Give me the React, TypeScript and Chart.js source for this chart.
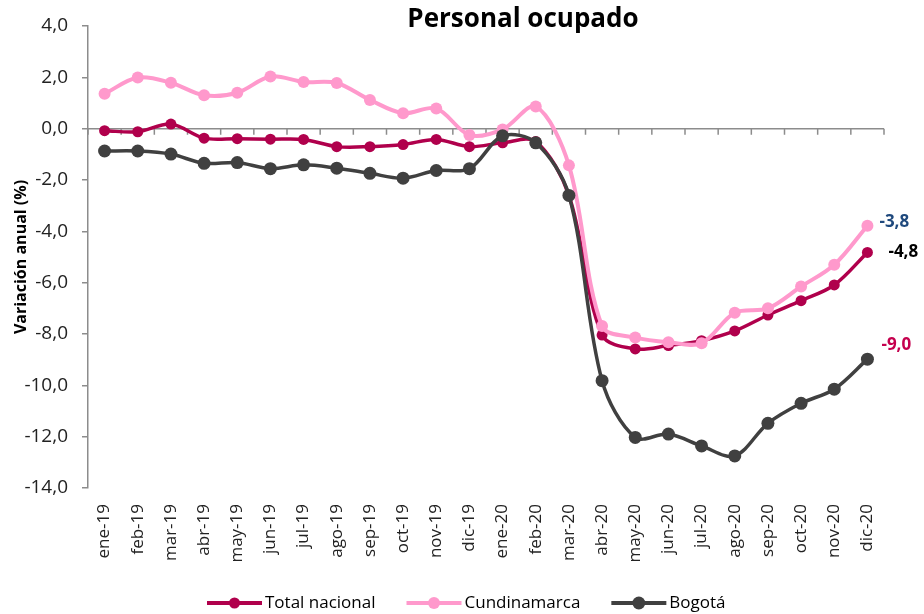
import React, { useEffect, useRef } from "react";
import { Chart, registerables } from "chart.js";

Chart.register(...registerables);

const categories = [
  "ene-19", "feb-19", "mar-19", "abr-19", "may-19", "jun-19", "jul-19", "ago-19", "sep-19", "oct-19", "nov-19", "dic-19",
  "ene-20", "feb-20", "mar-20", "abr-20", "may-20", "jun-20", "jul-20", "ago-20", "sep-20", "oct-20", "nov-20", "dic-20",
];

const totalNacional = [
  -0.08, -0.12, 0.18, -0.37, -0.39, -0.41, -0.42, -0.7, -0.7, -0.62, -0.42, -0.7,
  -0.55, -0.5, -2.6, -8.04, -8.58, -8.45, -8.26, -7.88, -7.26, -6.7, -6.09, -4.82,
];

const cundinamarca = [
  1.36, 1.99, 1.79, 1.3, 1.4, 2.03, 1.82, 1.78, 1.12, 0.6, 0.79, -0.25,
  -0.03, 0.86, -1.43, -7.69, -8.14, -8.32, -8.36, -7.17, -7.0, -6.15, -5.3, -3.78,
];

const bogota = [
  -0.87, -0.87, -0.99, -1.35, -1.32, -1.56, -1.41, -1.54, -1.74, -1.93, -1.63, -1.56,
  -0.28, -0.55, -2.6, -9.82, -12.03, -11.9, -12.36, -12.75, -11.48, -10.7, -10.15, -8.98,
];

const seriesNames = ["Total nacional", "Cundinamarca", "Bogotá"];
const seriesColors = ["#B0004C", "#FF99CC", "#404040"];
const endLabelColors = ["#000000", "#1F497D", "#C5004E"];

const yTicks = { min: -14, max: 4, step: 2 };

const titleText = "Personal ocupado";
const yTitle = "Variación anual (%)";
const FONT = "'Open Sans', 'Noto Sans', sans-serif";

const fmt = (v: number) => v.toFixed(1).replace(".", ",");

const zeroAxisPlugin = {
  id: "zeroAxis",
  beforeDatasetsDraw(chart: any) {
    const { ctx, chartArea, scales } = chart;
    const y0 = scales.y.getPixelForValue(0);
    const xs = scales.x;
    const n = categories.length;
    const step = (xs.getPixelForValue(n - 1) - xs.getPixelForValue(0)) / (n - 1);
    ctx.save();
    ctx.strokeStyle = "#8C8C8C";
    ctx.lineWidth = 1.5;
    ctx.beginPath();
    ctx.moveTo(chartArea.left, y0);
    ctx.lineTo(chartArea.right, y0);
    for (let i = 0; i <= n; i++) {
      const x = xs.getPixelForValue(0) - step / 2 + i * step;
      ctx.moveTo(x, y0);
      ctx.lineTo(x, y0 + 6);
    }
    ctx.stroke();
    ctx.restore();
  },
};

const endLabelPlugin = {
  id: "endLabels",
  afterDatasetsDraw(chart: any, _args: any, opts: any) {
    const { ctx } = chart;
    ctx.save();
    ctx.font = `bold 17px ${FONT}`;
    ctx.textAlign = "left";
    ctx.textBaseline = "middle";
    chart.data.datasets.forEach((ds: any, i: number) => {
      const meta = chart.getDatasetMeta(i);
      const last = meta.data[meta.data.length - 1];
      const off = opts.offsets[i];
      ctx.fillStyle = endLabelColors[i];
      ctx.fillText(fmt(ds.data[ds.data.length - 1]), last.x + off[0], last.y + off[1]);
    });
    ctx.restore();
  },
};

const titlePlugin = {
  id: "customTitle",
  afterDraw(chart: any, _args: any, opts: any) {
    const { ctx } = chart;
    ctx.save();
    ctx.font = `bold 26px ${FONT}`;
    ctx.fillStyle = "#000";
    ctx.textAlign = "center";
    ctx.textBaseline = "middle";
    ctx.fillText(titleText, opts.x, opts.y);
    ctx.restore();
  },
};

const legendPlugin = {
  id: "customLegend",
  afterDraw(chart: any, _args: any, opts: any) {
    const { ctx } = chart;
    ctx.save();
    ctx.font = `17px ${FONT}`;
    ctx.textBaseline = "middle";
    ctx.textAlign = "left";
    let x = opts.x;
    const y = opts.y;
    seriesNames.forEach((name, i) => {
      const ds = chart.data.datasets[i];
      ctx.strokeStyle = seriesColors[i];
      ctx.lineWidth = 4;
      ctx.beginPath();
      ctx.moveTo(x, y);
      ctx.lineTo(x + 55, y);
      ctx.stroke();
      ctx.fillStyle = seriesColors[i];
      ctx.beginPath();
      ctx.arc(x + 27.5, y, ds.pointRadius, 0, Math.PI * 2);
      ctx.fill();
      ctx.fillStyle = "#000";
      ctx.fillText(name, x + 58, y);
      x += 58 + ctx.measureText(name).width + 31;
    });
    ctx.restore();
  },
};

export default function App() {
  const ref = useRef<HTMLCanvasElement>(null);
  useEffect(() => {
    const chart = new Chart(ref.current!, {
      type: "line",
      data: {
        labels: categories,
        datasets: [
          {
            label: seriesNames[0],
            data: totalNacional,
            borderColor: seriesColors[0],
            backgroundColor: seriesColors[0],
            borderWidth: 3.5,
            pointRadius: 5.5,
            pointBorderWidth: 0,
            tension: 0.33,
            order: 2,
          },
          {
            label: seriesNames[1],
            data: cundinamarca,
            borderColor: seriesColors[1],
            backgroundColor: seriesColors[1],
            borderWidth: 4,
            pointRadius: 6,
            pointBorderWidth: 0,
            tension: 0.33,
            order: 1,
          },
          {
            label: seriesNames[2],
            data: bogota,
            borderColor: seriesColors[2],
            backgroundColor: seriesColors[2],
            borderWidth: 3.5,
            pointRadius: 6.5,
            pointBorderWidth: 0,
            tension: 0.33,
            order: 0,
          },
        ],
      },
      options: {
        animation: false,
        responsive: true,
        maintainAspectRatio: false,
        layout: { padding: { left: 0, right: 40, top: 26, bottom: 0 } },
        scales: {
          x: {
            offset: true,
            grid: { display: false, offset: true },
            border: { display: false },
            ticks: {
              color: "#222",
              font: { family: FONT, size: 17 },
              minRotation: 90,
              maxRotation: 90,
              padding: 8,
              autoSkip: false,
            },
            afterFit(scale: any) {
              scale.height = 126;
            },
          },
          y: {
            min: yTicks.min,
            max: yTicks.max,
            ticks: {
              stepSize: yTicks.step,
              color: "#222",
              font: { family: FONT, size: 19 },
              padding: 14,
              callback: (v: any) => fmt(Number(v)),
            },
            grid: {
              drawOnChartArea: false,
              drawTicks: true,
              tickLength: 6,
              color: "#8C8C8C",
              lineWidth: 1.5,
            },
            border: { color: "#8C8C8C", width: 1.5 },
            title: {
              display: true,
              text: yTitle,
              color: "#000",
              font: { family: FONT, size: 16, weight: "bold" },
              padding: { top: 12, bottom: 0 },
            },
            afterFit(scale: any) {
              scale.width = 88;
            },
          },
        },
        plugins: {
          legend: { display: false },
          tooltip: { enabled: false },
          endLabels: { offsets: [[21, 0], [12, -4], [14, -14]] },
          customTitle: { x: 523, y: 20 },
          customLegend: { x: 207, y: 603 },
        } as any,
      },
      plugins: [zeroAxisPlugin, endLabelPlugin, titlePlugin, legendPlugin],
    });
    return () => chart.destroy();
  }, []);
  return (
    <div style={{ position: "fixed", left: 0, top: 0, width: 924, height: 614, background: "#fff" }}>
      <canvas ref={ref} />
    </div>
  );
}
